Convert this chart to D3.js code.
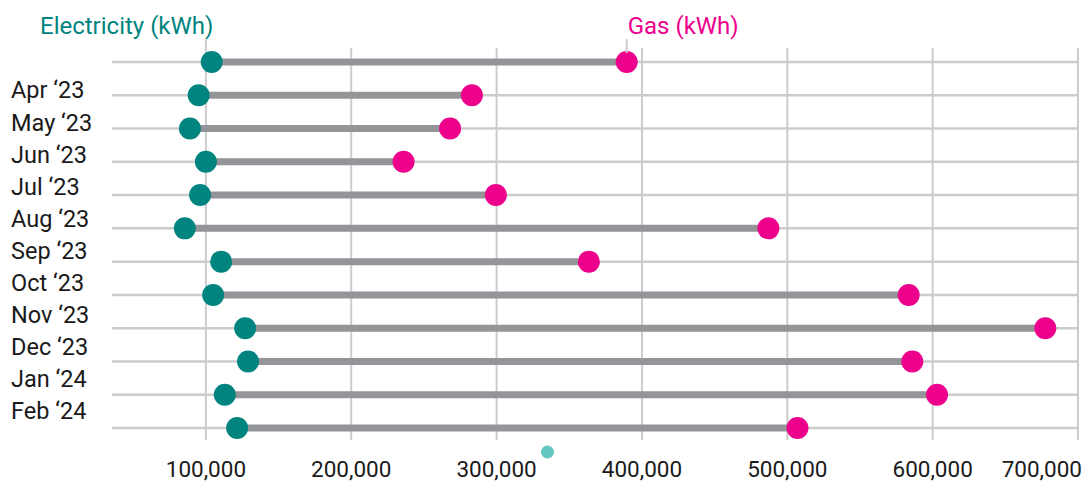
<!DOCTYPE html>
<html>
<head>
<meta charset="utf-8">
<script src="https://cdn.jsdelivr.net/npm/d3@7"></script>
<style>
  body { margin: 0; background: #fff; }
  svg { font-family: Roboto, "Noto Sans", sans-serif; }
</style>
</head>
<body>
<div id="chart"></div>
<script>
// monthly usage, electricity vs gas (kWh)
const months = ["Mar '23", "Apr '23", "May '23", "Jun '23", "Jul '23", "Aug '23",
  "Sep '23", "Oct '23", "Nov '23", "Dec '23", "Jan '24", "Feb '24"];
const electricity = [104000, 95000, 89000, 100000, 96000, 85500, 110500, 105000, 127000, 129000, 113000, 121500];
const gas = [389500, 283000, 268000, 236000, 299500, 487000, 363500, 583500, 677500, 586000, 603000, 507000];
// the labels drawn on the left (first row has none in the source)
const rowLabels = ["Apr \u201823", "May \u201823", "Jun \u201823", "Jul \u201823", "Aug \u201823",
  "Sep \u201823", "Oct \u201823", "Nov \u201823", "Dec \u201823", "Jan \u201824", "Feb \u201824"];
const xTicks = [100000, 200000, 300000, 400000, 500000, 600000, 700000];
const markerValue = 335000;

const width = 1088, height = 484;
const colElec = "#00847f", colGas = "#ec008c";

const svg = d3.select("#chart").append("svg")
  .attr("width", width).attr("height", height);

const x = d3.scaleLinear().domain([35400, 700000]).range([112, 1078]);
const y = d3.scalePoint().domain(months).range([62, 428]);
const yLabel = d3.scalePoint().domain(rowLabels).range([90, 411]);

// vertical gridlines
svg.append("g").selectAll("line")
  .data(xTicks)
  .join("line")
  .attr("x1", d => x(d)).attr("x2", d => x(d))
  .attr("y1", d => d === 100000 ? 40 : 48).attr("y2", 440)
  .attr("stroke", "#cccccc").attr("stroke-width", 2);

// row lines
svg.append("g").selectAll("line")
  .data(months)
  .join("line")
  .attr("x1", x.range()[0]).attr("x2", x.range()[1])
  .attr("y1", d => y(d)).attr("y2", d => y(d))
  .attr("stroke", "#cccccc").attr("stroke-width", 2.5);

// dumbbell bars
svg.append("g").selectAll("line")
  .data(months)
  .join("line")
  .attr("x1", (d, i) => x(electricity[i]))
  .attr("x2", (d, i) => x(gas[i]))
  .attr("y1", d => y(d)).attr("y2", d => y(d))
  .attr("stroke", "#939598").attr("stroke-width", 7);

svg.append("g").selectAll("circle")
  .data(months)
  .join("circle")
  .attr("cx", (d, i) => x(electricity[i]))
  .attr("cy", d => y(d))
  .attr("r", 11)
  .attr("fill", colElec);

svg.append("g").selectAll("circle")
  .data(months)
  .join("circle")
  .attr("cx", (d, i) => x(gas[i]))
  .attr("cy", d => y(d))
  .attr("r", 11)
  .attr("fill", colGas);

// row labels
svg.append("g").selectAll("text")
  .data(rowLabels)
  .join("text")
  .attr("x", 11)
  .attr("y", d => yLabel(d))
  .attr("dy", "0.36em")
  .attr("font-size", 23.5)
  .attr("fill", "#1a1a1a")
  .text(d => d);

// x axis labels
svg.append("g").selectAll("text")
  .data(xTicks)
  .join("text")
  .attr("x", (d, i) => i === xTicks.length - 1 ? width - 6 : x(d))
  .attr("y", 469)
  .attr("dy", "0.36em")
  .attr("text-anchor", (d, i) => i === xTicks.length - 1 ? "end" : "middle")
  .attr("font-size", 22.5)
  .attr("fill", "#1a1a1a")
  .text(d => d3.format(",")(d));

// series titles with little connectors
svg.append("line")
  .attr("x1", x(gas[0])).attr("x2", x(gas[0]))
  .attr("y1", 39).attr("y2", 53)
  .attr("stroke", "#cccccc").attr("stroke-width", 2);

svg.append("text")
  .attr("x", 40).attr("y", 25).attr("dy", "0.36em")
  .attr("font-size", 24).attr("fill", colElec)
  .text("Electricity (kWh)");

svg.append("text")
  .attr("x", x(gas[0]) + 1).attr("y", 25).attr("dy", "0.36em")
  .attr("font-size", 24).attr("fill", colGas)
  .text("Gas (kWh)");

// small marker below the axis
svg.append("circle")
  .attr("cx", x(markerValue)).attr("cy", 452)
  .attr("r", 6.5).attr("fill", "#63c7bf");
</script>
</body>
</html>
